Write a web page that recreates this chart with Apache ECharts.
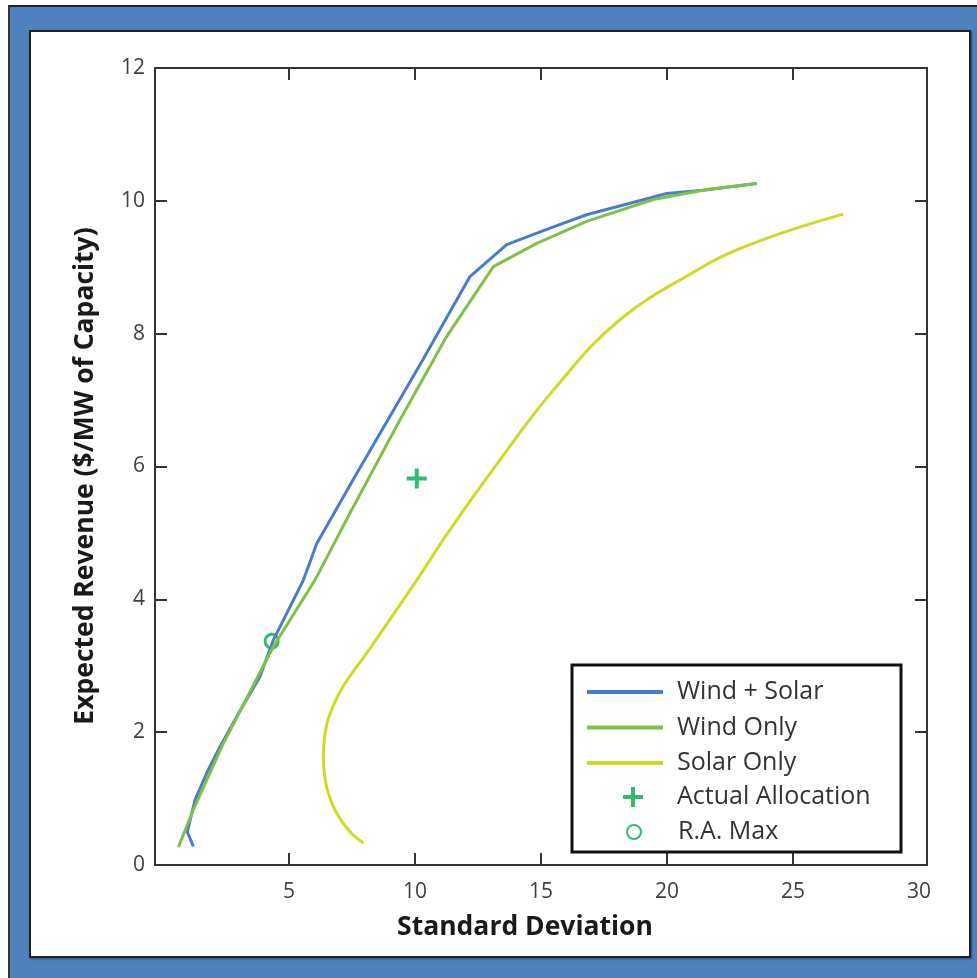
<!DOCTYPE html>
<html>
<head>
<meta charset="utf-8">
<script src="https://cdn.jsdelivr.net/npm/echarts@6/dist/echarts.min.js"></script>
<style>
  body { margin: 0; background: #fff; }
  #frame { position: absolute; left: 8px; top: 5px; width: 969px; height: 973px; background: #4f81bd; border-top: 2px solid #222; border-left: 2px solid #333; box-sizing: border-box; }
  #panel { position: absolute; left: 29px; top: 30px; width: 942px; height: 928px; background: #fff; border: 2px solid #222; box-sizing: border-box; box-shadow: 1px 1px 2px rgba(0,0,0,0.4); }
  #chart { position: absolute; left: 0; top: 0; width: 977px; height: 978px; }
</style>
</head>
<body>
<div id="frame"></div>
<div id="panel"></div>
<div id="chart"></div>
<script>
// [std dev, expected revenue] pairs
const windSolar = [
  [1.20, 0.28], [0.96, 0.50], [1.27, 0.98], [1.75, 1.40], [2.26, 1.78], [3.05, 2.32],
  [3.85, 2.84], [4.38, 3.39], [5.57, 4.29], [6.10, 4.84], [7.69, 5.90], [10.30, 7.60],
  [12.18, 8.86], [13.64, 9.34], [15.36, 9.59], [16.81, 9.79], [19.99, 10.11],
  [21.44, 10.16], [23.56, 10.26]
];
const windOnly = [
  [0.61, 0.27], [1.20, 0.83], [2.39, 1.83], [4.38, 3.29], [6.03, 4.29], [7.42, 5.30],
  [9.40, 6.70], [11.26, 7.96], [13.11, 9.01], [14.83, 9.36], [16.81, 9.69],
  [19.46, 10.02], [21.58, 10.17], [23.56, 10.26]
];
const solarOnly = [
  [7.95, 0.33], [7.42, 0.50], [6.89, 0.78], [6.56, 1.08], [6.43, 1.30], [6.36, 1.63],
  [6.43, 1.98], [6.63, 2.28], [7.15, 2.69], [8.08, 3.19], [10.07, 4.29], [11.39, 5.05],
  [13.37, 6.10], [15.49, 7.15], [18.13, 8.21], [21.44, 9.01], [22.77, 9.26],
  [24.75, 9.54], [27.00, 9.80]
];
const actualAllocation = [[10.07, 5.82]];
const raMax = [[4.31, 3.37]];

const xTickLabels = [5, 10, 15, 20, 25, 30];
const xTickMarks = [5, 10, 15, 20, 25];
const yTicks = [0, 2, 4, 6, 8, 10, 12];

const myChart = echarts.init(document.getElementById('chart'));

const plusPath = 'path://M8,0h4v8h8v4h-8v8h-4v-8h-8v-4h8z';
const axisColor = '#333';
const labelColor = '#404040';
const font = '"Open Sans", sans-serif';

const xBase = {
  type: 'value',
  min: -0.32,
  max: 30.32,
  splitLine: { show: false },
  axisLine: { onZero: false, lineStyle: { color: axisColor, width: 2 } },
  axisTick: { inside: true, length: 12, customValues: xTickMarks, lineStyle: { color: axisColor, width: 2 } },
};
const yBase = {
  type: 'value',
  min: 0,
  max: 12,
  interval: 2,
  splitLine: { show: false },
  axisLine: { onZero: false, lineStyle: { color: axisColor, width: 2 } },
  axisTick: { inside: true, length: 12, lineStyle: { color: axisColor, width: 2 } },
};

const legendText = { color: '#333', fontFamily: font, fontSize: 25, lineHeight: 26 };

const option = {
  backgroundColor: 'transparent',
  animation: false,
  grid: { left: 155, top: 68, width: 772, height: 797, outerBoundsMode: 'none' },
  xAxis: [
    Object.assign({}, xBase, {
      position: 'bottom',
      axisLabel: {
        margin: 17, color: labelColor, fontFamily: font, fontSize: 21,
        customValues: xTickLabels
      }
    }),
    Object.assign({}, xBase, { position: 'top', axisLabel: { show: false } })
  ],
  yAxis: [
    Object.assign({}, yBase, {
      position: 'left',
      axisLabel: {
        margin: 10, color: labelColor, fontFamily: font, fontSize: 21,
        formatter: (v) => (yTicks.indexOf(v) >= 0 ? String(v) : '')
      }
    }),
    Object.assign({}, yBase, { position: 'right', axisLabel: { show: false } })
  ],
  legend: [
    {
      orient: 'vertical', left: 587, top: 679, padding: 0, itemGap: 9.5,
      itemWidth: 76, itemHeight: 4, selectedMode: false,
      data: [
        { name: 'Wind + Solar', icon: 'rect' },
        { name: 'Wind Only', icon: 'rect' },
        { name: 'Solar Only', icon: 'rect' }
      ],
      textStyle: Object.assign({ padding: [0, 0, 0, 9] }, legendText)
    },
    {
      orient: 'vertical', left: 623, top: 784, padding: 0,
      itemWidth: 20, itemHeight: 20, selectedMode: false,
      data: [{ name: 'Actual Allocation', icon: plusPath }],
      textStyle: Object.assign({ padding: [0, 0, 0, 29] }, legendText)
    },
    {
      orient: 'vertical', left: 626, top: 819, padding: 0,
      itemWidth: 14, itemHeight: 14, selectedMode: false,
      data: [{ name: 'R.A. Max', icon: 'circle' }],
      textStyle: Object.assign({ padding: [0, 0, 0, 32] }, legendText)
    }
  ],
  graphic: [
    {
      type: 'rect', z: 10,
      shape: { x: 572, y: 665, width: 329, height: 187 },
      style: { fill: 'transparent', stroke: '#111', lineWidth: 3 }
    },
    {
      type: 'text', x: 525, y: 927,
      style: {
        text: 'Standard Deviation', fontFamily: font, fontWeight: 'bold', fontSize: 26.5,
        fill: '#1a1a1a', align: 'center', verticalAlign: 'middle'
      }
    },
    {
      type: 'text', x: 85, y: 476, rotation: Math.PI / 2,
      style: {
        text: 'Expected Revenue ($/MW of Capacity)', fontFamily: font, fontWeight: 'bold', fontSize: 26.5,
        fill: '#1a1a1a', align: 'center', verticalAlign: 'middle'
      }
    }
  ],
  series: [
    {
      name: 'Wind + Solar', type: 'line', data: windSolar, color: '#4a7ec4',
      showSymbol: false, lineStyle: { width: 3, color: '#4a7ec4' }
    },
    {
      name: 'Wind Only', type: 'line', data: windOnly, color: '#80c04a',
      showSymbol: false, lineStyle: { width: 3, color: '#80c04a' }
    },
    {
      name: 'Solar Only', type: 'line', data: solarOnly, color: '#d0d926',
      showSymbol: false, smooth: 0.4, lineStyle: { width: 3, color: '#d0d926' }
    },
    {
      name: 'Actual Allocation', type: 'scatter', data: actualAllocation,
      symbol: plusPath, symbolSize: 20, itemStyle: { color: '#00a84f' }
    },
    {
      name: 'R.A. Max', type: 'scatter', data: raMax,
      symbol: 'circle', symbolSize: [13, 14],
      itemStyle: { color: 'rgba(0,0,0,0)', borderColor: '#00a84f', borderWidth: 3 }
    }
  ]
};

myChart.setOption(option);
</script>
</body>
</html>
